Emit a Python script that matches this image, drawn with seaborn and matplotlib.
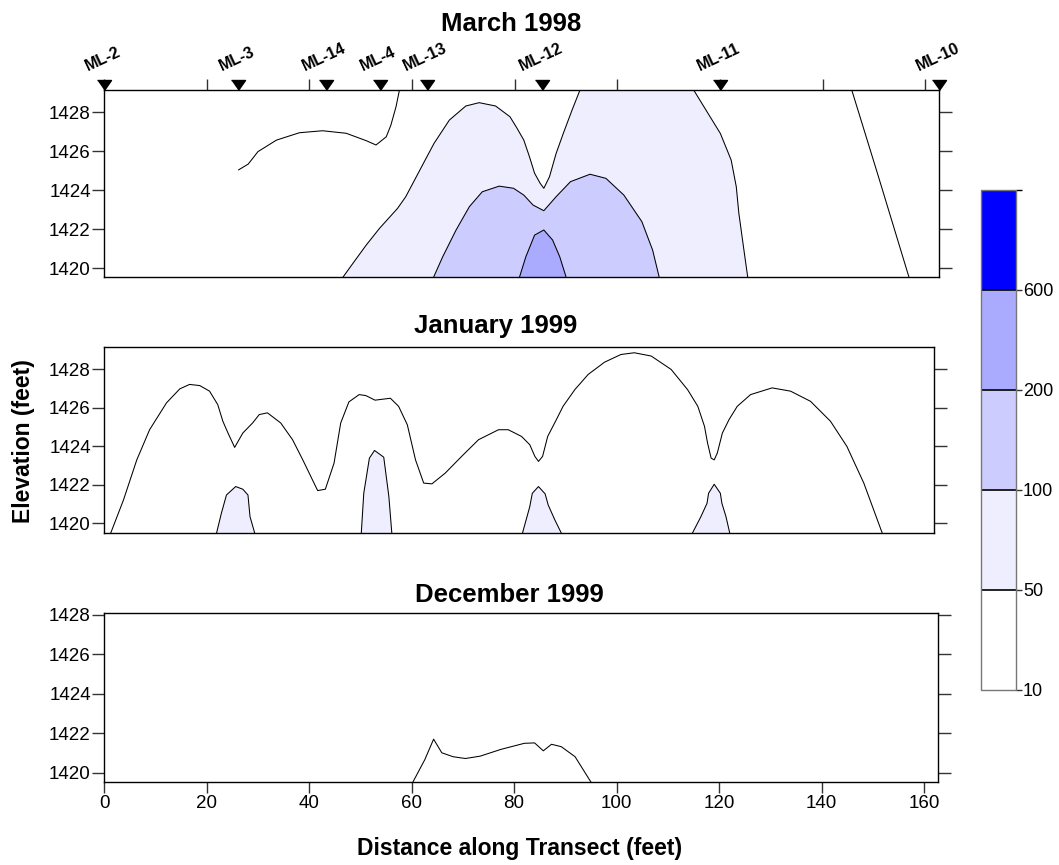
import matplotlib
matplotlib.use("Agg")
import matplotlib.pyplot as plt
import seaborn as sns
from matplotlib.colors import ListedColormap, BoundaryNorm
from matplotlib.cm import ScalarMappable

# ---------------- data ----------------
levels = [10, 50, 100, 200, 600, 1000]
level_colors = ["#FFFFFF", "#EEEEFF", "#CCCCFF", "#AAAAFF", "#0000FF"]
cbar_ticks = [10, 50, 100, 200, 600]

stations = ["ML-2", "ML-3", "ML-14", "ML-4", "ML-13", "ML-12", "ML-11", "ML-10"]
station_x = [0.0, 26.2, 43.2, 53.7, 62.9, 85.4, 120.1, 162.7]

x_ticks = [0, 20, 40, 60, 80, 100, 120, 140, 160]
y_ticks = [1420, 1422, 1424, 1426, 1428]

# March 1998
mar_c10a_x = [26.2, 28.1, 30.0, 33.6, 38.1, 42.6, 47.2, 51.1, 53.0, 55.0, 55.9, 56.9, 57.7]
mar_c10a_y = [1425.03, 1425.33, 1425.97, 1426.56, 1426.94, 1427.04, 1426.91, 1426.53,
              1426.31, 1426.73, 1427.33, 1428.27, 1429.3]
mar_c10b_x = [145.5, 150.7, 157.0]
mar_c10b_y = [1429.3, 1424.86, 1419.4]
mar_c50_left_x = [46.2, 48.5, 51.1, 53.7, 57.2, 58.8, 62.4, 64.3, 67.3, 70.5, 73.1, 76.3,
                  79.1, 80.5, 81.8, 82.9, 83.9, 85.0, 85.7, 86.8, 88.1, 89.5, 91.2, 93.0]
mar_c50_left_y = [1419.4, 1420.24, 1421.18, 1422.04, 1423.06, 1423.66, 1425.45, 1426.39,
                  1427.59, 1428.31, 1428.48, 1428.31, 1427.76, 1427.16, 1426.56, 1425.71,
                  1424.86, 1424.34, 1424.09, 1424.68, 1425.88, 1426.91, 1428.1, 1429.3]
mar_c50_right_x = [114.5, 117.3, 120.1, 122.2, 123.2, 123.7, 124.6, 125.5]
mar_c50_right_y = [1429.3, 1428.1, 1426.9, 1425.54, 1424.17, 1422.81, 1421.09, 1419.4]
mar_c100_x = [64.0, 66.0, 68.6, 71.2, 73.7, 77.0, 79.8, 81.8, 83.6, 85.7, 88.1, 90.9,
              94.7, 97.8, 101.3, 104.8, 106.9, 108.3]
mar_c100_y = [1419.4, 1420.58, 1421.95, 1423.15, 1423.91, 1424.2, 1424.09, 1423.74,
              1423.23, 1422.94, 1423.66, 1424.43, 1424.81, 1424.6, 1423.74, 1422.38,
              1420.92, 1419.4]
mar_c200_x = [80.8, 82.2, 83.9, 85.7, 87.4, 88.8, 90.2]
mar_c200_y = [1419.4, 1420.58, 1421.69, 1421.95, 1421.44, 1420.58, 1419.4]

# January 1999
jan_c10_x = [1.2, 3.8, 6.4, 8.9, 12.2, 14.8, 16.7, 18.7, 20.6, 22.2, 23.2, 24.2, 25.5,
             27.1, 29.0, 30.3, 31.9, 34.5, 36.8, 38.8, 41.7, 43.2, 44.9, 46.2, 47.8,
             49.8, 51.1, 52.9, 55.9, 57.5, 59.2, 60.8, 62.4, 64.0, 66.6, 69.8, 73.1,
             77.0, 78.9, 81.5, 83.1, 84.1, 84.8, 85.6, 86.6, 88.3, 89.6, 91.9, 94.5,
             97.7, 100.9, 103.5, 106.8, 110.7, 113.9, 115.9, 117.2, 117.8, 118.5, 119.1,
             119.7, 120.7, 122.0, 123.6, 126.2, 130.4, 134.0, 137.9, 141.8, 145.0,
             148.3, 152.0]
jan_c10_y = [1419.4, 1421.2, 1423.29, 1424.86, 1426.26, 1426.99, 1427.22, 1427.16,
             1426.87, 1426.17, 1425.3, 1424.69, 1423.94, 1424.69, 1425.21, 1425.65,
             1425.74, 1425.21, 1424.34, 1423.29, 1421.69, 1421.76, 1423.12, 1425.21,
             1426.31, 1426.69, 1426.64, 1426.4, 1426.5, 1426.08, 1425.12, 1423.29,
             1422.08, 1422.04, 1422.6, 1423.47, 1424.34, 1424.86, 1424.86, 1424.51,
             1424.08, 1423.47, 1423.21, 1423.47, 1424.51, 1425.39, 1426.08, 1426.95,
             1427.74, 1428.38, 1428.78, 1428.87, 1428.7, 1428.0, 1426.95, 1426.08,
             1425.04, 1424.17, 1423.38, 1423.29, 1423.64, 1424.69, 1425.39, 1426.08,
             1426.69, 1427.04, 1426.87, 1426.34, 1425.3, 1423.99, 1422.08, 1419.4]
jan_c50_1_x = [21.9, 22.9, 23.9, 25.7, 27.1, 28.1, 28.5, 29.5]
jan_c50_1_y = [1419.4, 1420.5, 1421.46, 1421.9, 1421.76, 1421.46, 1420.33, 1419.4]
jan_c50_2_x = [50.2, 50.7, 51.8, 52.8, 54.6, 55.6, 56.2]
jan_c50_2_y = [1419.4, 1421.55, 1423.38, 1423.78, 1423.43, 1421.38, 1419.4]
jan_c50_3_x = [81.6, 83.1, 83.6, 84.8, 86.1, 86.7, 88.0, 89.4]
jan_c50_3_y = [1419.4, 1420.85, 1421.55, 1421.9, 1421.52, 1420.94, 1420.16, 1419.4]
jan_c50_4_x = [114.7, 116.5, 117.7, 118.0, 119.1, 120.3, 120.6, 121.4, 122.2]
jan_c50_4_y = [1419.4, 1420.33, 1421.03, 1421.55, 1422.02, 1421.55, 1421.03, 1420.33, 1419.4]

# December 1999
dec_c10_x = [60.0, 62.6, 64.3, 65.9, 68.1, 70.5, 73.4, 77.4, 82.0, 84.0, 85.7, 87.3, 89.2, 91.9, 95.3]
dec_c10_y = [1419.4, 1420.67, 1421.70, 1421.01, 1420.81, 1420.72, 1420.84, 1421.18,
             1421.49, 1421.51, 1421.11, 1421.44, 1421.32, 1420.81, 1419.4]

# ---------------- style ----------------
sns.set_theme(style="white")
plt.rcParams["font.family"] = ["Liberation Sans", "DejaVu Sans"]
plt.rcParams["text.color"] = "black"
plt.rcParams["axes.labelcolor"] = "black"
plt.rcParams["xtick.color"] = "black"
plt.rcParams["ytick.color"] = "black"

fig = plt.figure(figsize=(10.59, 8.65), dpi=100)

W, H = 1059.0, 865.0
def box(l, t, r, b):
    return [l / W, 1 - b / H, (r - l) / W, (b - t) / H]

ax1 = fig.add_axes(box(104, 90, 939, 277))
ax2 = fig.add_axes(box(104, 347, 934, 533))
ax3 = fig.add_axes(box(104, 613, 938, 782))
cax = fig.add_axes(box(981, 190, 1016, 690))

LW = 0.75

def line(ax, xs, ys):
    sns.lineplot(x=xs, y=ys, sort=False, estimator=None, color="black",
                 linewidth=LW, ax=ax, zorder=5)

def region(ax, xs, ys, color):
    ax.fill(xs, ys, color=color, linewidth=0, zorder=2)

# March 1998
region(ax1, mar_c50_left_x + mar_c50_right_x, mar_c50_left_y + mar_c50_right_y, level_colors[1])
region(ax1, mar_c100_x, mar_c100_y, level_colors[2])
region(ax1, mar_c200_x, mar_c200_y, level_colors[3])
for xs, ys in [(mar_c10a_x, mar_c10a_y), (mar_c10b_x, mar_c10b_y),
               (mar_c50_left_x, mar_c50_left_y), (mar_c50_right_x, mar_c50_right_y),
               (mar_c100_x, mar_c100_y), (mar_c200_x, mar_c200_y)]:
    line(ax1, xs, ys)

# January 1999
for xs, ys in [(jan_c50_1_x, jan_c50_1_y), (jan_c50_2_x, jan_c50_2_y),
               (jan_c50_3_x, jan_c50_3_y), (jan_c50_4_x, jan_c50_4_y)]:
    region(ax2, xs, ys, level_colors[1])
    line(ax2, xs, ys)
line(ax2, jan_c10_x, jan_c10_y)

# December 1999
line(ax3, dec_c10_x, dec_c10_y)

limits = [(ax1, 162.7, (1419.54, 1429.13)),
          (ax2, 162.0, (1419.48, 1429.17)),
          (ax3, 162.7, (1419.53, 1428.09))]
for ax, xmax, yl in limits:
    ax.set_xlim(0, xmax)
    ax.set_ylim(*yl)
    ax.set_xlabel("")
    ax.set_ylabel("")
    ax.set_yticks(y_ticks)
    ax.set_xticks(x_ticks)
    for s in ax.spines.values():
        s.set_visible(True)
        s.set_color("black")
        s.set_linewidth(1.0)
    ax.tick_params(axis="y", which="both", left=True, right=True, labelleft=True,
                   labelright=False, direction="out", length=9, width=1,
                   color="#333333", labelsize=13.5, pad=0.5, labelcolor="black")
    ax.set_facecolor("white")

ax1.tick_params(axis="x", top=True, bottom=False, labeltop=False, labelbottom=False,
                direction="out", length=8, width=1, color="#333333")
ax2.tick_params(axis="x", top=False, bottom=False, labeltop=False, labelbottom=False)
ax3.tick_params(axis="x", top=False, bottom=True, labeltop=False, labelbottom=True,
                direction="out", length=8, width=1, color="#333333",
                labelsize=13.5, pad=1.5, labelcolor="black")

# station markers along the top of the March 1998 panel
tri = [(-0.7, 1.0), (0.7, 1.0), (0.0, 0.0)]
ytop = ax1.get_ylim()[1]
ax1.plot(station_x, [ytop] * len(station_x), linestyle="none", marker=tri,
         markersize=14.4, color="black", clip_on=False, zorder=10)
for name, sx in zip(stations, station_x):
    ax1.annotate(name, (sx, ytop), xytext=(-1, 12), textcoords="offset points",
                 rotation=25, ha="center", va="bottom", fontsize=11.5,
                 fontweight="bold", color="black", annotation_clip=False)

# titles
fig.text(511 / W, 1 - 30.7 / H, "March 1998", ha="center", va="baseline",
         fontsize=18.5, fontweight="bold", color="black")
fig.text(496 / W, 1 - 333.3 / H, "January 1999", ha="center", va="baseline",
         fontsize=18.5, fontweight="bold", color="black")
fig.text(509 / W, 1 - 602.4 / H, "December 1999", ha="center", va="baseline",
         fontsize=18.5, fontweight="bold", color="black")

# axis labels
fig.text(24 / W, 1 - 441 / H, "Elevation (feet)", rotation=90, ha="center",
         va="center", fontsize=16.5, fontweight="bold", color="black")
fig.text(520 / W, 1 - 848 / H, "Distance along Transect (feet)", ha="center",
         va="center", fontsize=16.5, fontweight="bold", color="black")

# colour bar
cmap = ListedColormap(level_colors)
norm = BoundaryNorm(levels, cmap.N)
cb = fig.colorbar(ScalarMappable(norm=norm, cmap=cmap), cax=cax, ticks=cbar_ticks,
                  spacing="uniform", drawedges=True)
cb.outline.set_edgecolor("#777777")
cb.outline.set_linewidth(1.0)
cb.dividers.set_color("black")
cb.dividers.set_linewidth(1.2)
cb.ax.tick_params(labelsize=13, length=4, width=1, pad=1, color="#333333",
                  labelcolor="black", direction="out", right=True, left=False)
cb.ax.set_yticklabels([str(t) for t in cbar_ticks])

fig.savefig("out.png", dpi=100, facecolor="white")
